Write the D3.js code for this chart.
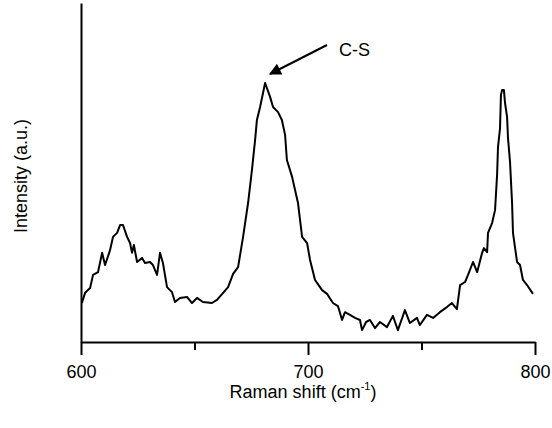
<!DOCTYPE html>
<html>
<head>
<meta charset="utf-8">
<script src="https://cdn.jsdelivr.net/npm/d3@7"></script>
<style>
body { margin: 0; background: #fff; }
text { font-family: Arial, "Liberation Sans", sans-serif; }
</style>
</head>
<body>
<div id="root"></div>
<script>
var width = 552;
var height = 428;

// Raman shift (cm-1)
var shift = [
600.4, 601.8, 604.0, 605.3, 607.5, 609.3, 610.6, 612.8, 614.1, 615.9,
617.2, 618.5, 620.3, 621.6, 622.5, 623.3, 624.7, 626.9, 628.2, 630.4,
631.7, 633.5, 634.8, 636.1, 637.9, 640.1, 641.4, 643.6, 646.7, 648.9,
651.1, 653.7, 657.7, 659.9, 662.6, 664.8, 667.0, 669.2, 671.4, 673.6,
675.3, 676.7, 677.5, 678.9, 681.1, 683.3, 684.6, 686.8, 688.5, 689.9,
690.7, 693.0, 695.6, 697.4, 699.6, 700.9, 703.1, 706.2, 708.4, 711.0,
713.2, 715.0, 716.3, 718.5, 720.7, 722.9, 723.8, 725.6, 727.3, 729.5,
731.7, 734.8, 737.4, 739.6, 742.7, 744.9, 748.0, 749.3, 752.4, 755.1,
758.1, 761.2, 763.4, 765.6, 767.0, 769.2, 770.5, 772.7, 774.5, 776.7,
777.5, 778.9, 779.3, 781.1, 782.4, 783.3, 783.7, 784.6, 785.0, 785.5,
786.3, 786.8, 787.7, 788.1, 789.0, 789.9, 790.3, 792.1, 793.4, 794.7,
796.5, 799.1
];

// intensity (a.u.)
var intensity = [
11.5, 14.5, 15.9, 19.8, 20.6, 26.3, 22.7, 27.1, 31.0, 32.2,
34.5, 34.5, 31.0, 29.2, 26.3, 28.6, 23.6, 24.8, 23.3, 23.6,
22.7, 19.8, 26.3, 23.3, 16.2, 14.7, 11.8, 13.0, 13.3, 11.5,
13.0, 11.8, 11.5, 12.4, 14.5, 16.2, 20.1, 22.1, 31.0, 41.0,
50.7, 59.6, 65.5, 69.3, 76.4, 72.3, 69.3, 67.8, 65.5, 61.1,
53.7, 48.7, 41.0, 31.0, 29.2, 24.2, 18.3, 15.3, 14.2, 11.5,
10.6, 6.5, 8.8, 8.0, 7.1, 6.5, 3.5, 5.9, 6.5, 4.1,
5.9, 4.4, 7.7, 3.5, 9.4, 5.6, 7.1, 5.0, 8.0, 7.1,
8.8, 10.3, 11.5, 9.7, 16.8, 17.7, 19.8, 23.6, 20.6, 26.3,
27.7, 26.5, 32.2, 35.1, 38.9, 49.3, 57.5, 63.1, 72.9, 74.3,
74.3, 70.5, 66.4, 60.2, 53.1, 41.0, 32.2, 23.6, 22.7, 18.3,
16.8, 14.2
];

var xTicks = [600, 650, 700, 750, 800];
var xTickLabels = ["600", "", "700", "", "800"];

var svg = d3.select("#root")
  .append("svg")
  .attr("width", width)
  .attr("height", height);

var x = d3.scaleLinear().domain([600, 800]).range([81, 535]);
var y = d3.scaleLinear().domain([0, 100]).range([342, 3]);

// x axis, major ticks longer than minor ones
var xAxis = svg.append("g")
  .attr("transform", "translate(0,342)")
  .call(d3.axisBottom(x)
    .tickValues(xTicks)
    .tickSize(13)
    .tickSizeOuter(0)
    .tickPadding(10)
    .tickFormat(function(d, i) { return xTickLabels[i]; }));

xAxis.select(".domain").attr("stroke-width", 2);
xAxis.selectAll(".tick line")
  .attr("stroke-width", 2)
  .attr("y2", function(d, i) { return xTickLabels[i] ? 13 : 8; });
xAxis.selectAll(".tick text")
  .attr("font-family", "Arial, 'Liberation Sans', sans-serif")
  .attr("font-size", 18)
  .attr("fill", "#000");

// y axis is just a line
var yAxis = svg.append("g")
  .attr("transform", "translate(81,0)")
  .call(d3.axisLeft(y).tickValues([]).tickSizeOuter(0));
yAxis.select(".domain").attr("stroke-width", 2);

var line = d3.line()
  .x(function(d) { return x(d[0]); })
  .y(function(d) { return y(d[1]); });

svg.append("path")
  .datum(d3.zip(shift, intensity))
  .attr("fill", "none")
  .attr("stroke", "#000")
  .attr("stroke-width", 2)
  .attr("stroke-linejoin", "round")
  .attr("d", line);

// axis titles
svg.append("text")
  .attr("x", 303)
  .attr("y", 398)
  .attr("text-anchor", "middle")
  .attr("font-size", 18)
  .text("Raman shift (cm")
  .append("tspan")
  .attr("font-size", 11)
  .attr("dy", -8)
  .text("-1")
  .select(function() { return this.parentNode; })
  .append("tspan")
  .attr("dy", 8)
  .text(")");

svg.append("text")
  .attr("transform", "translate(27,176) rotate(-90)")
  .attr("text-anchor", "middle")
  .attr("font-size", 18)
  .text("Intensity (a.u.)");

// C-S annotation
svg.append("defs").append("marker")
  .attr("id", "head")
  .attr("viewBox", "0 0 10 10")
  .attr("refX", 9)
  .attr("refY", 5)
  .attr("markerWidth", 7)
  .attr("markerHeight", 6)
  .attr("markerUnits", "strokeWidth")
  .attr("orient", "auto")
  .append("path")
  .attr("d", "M0,0L10,5L0,10Z")
  .attr("fill", "#000");

svg.append("line")
  .attr("x1", 327).attr("y1", 45)
  .attr("x2", 270).attr("y2", 74)
  .attr("stroke", "#000")
  .attr("stroke-width", 2)
  .attr("marker-end", "url(#head)");

svg.append("text")
  .attr("x", 339)
  .attr("y", 56)
  .attr("font-size", 18)
  .text("C-S");
</script>
</body>
</html>
